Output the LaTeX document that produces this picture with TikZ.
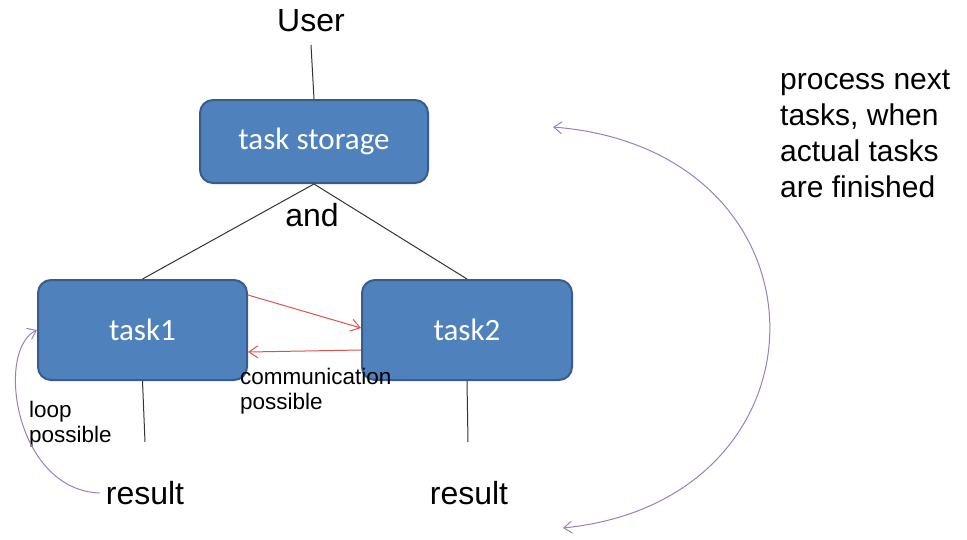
\documentclass[tikz,border=0pt]{standalone}
\usepackage{fontspec}
\setmainfont{Liberation Sans}
\newfontfamily\boxfont{Carlito}
\usetikzlibrary{arrows.meta}
\definecolor{boxfill}{HTML}{4F81BD}
\definecolor{boxedge}{HTML}{385D8A}
\definecolor{commred}{HTML}{D9534F}
\definecolor{looppurple}{HTML}{9A7FBF}
\begin{document}
\begin{tikzpicture}[x=1pt,y=-1pt,
  taskbox/.style={draw=boxedge,fill=boxfill,line width=2pt,rounded corners=13pt,
    text=white,font=\boxfont\fontsize{31}{36}\selectfont,inner sep=0pt},
  plain/.style={font=\fontsize{32}{38}\selectfont,inner sep=0pt},
  small/.style={font=\fontsize{22.5}{25}\selectfont,inner sep=0pt,align=left},
  link/.style={draw=black!80,line width=1pt},
  comm/.style={draw=commred,line width=1pt,-{Straight Barb[length=9pt,width=12pt]}},
  loopline/.style={draw=looppurple,line width=1pt}]
\useasboundingbox (0,0) rectangle (967,539);

% boxes
\node[taskbox,minimum width=228pt,minimum height=83pt] (store) at (314,141.5) {task storage};
\node[taskbox,minimum width=209pt,minimum height=100pt] (t1) at (142.5,330) {task1};
\node[taskbox,minimum width=210pt,minimum height=100pt] (t2) at (467,330) {task2};

% plain labels
\node[plain] (user) at (311,21) {User};
\node[plain] (and) at (312,215) {and};
\node[plain] (res1) at (145,493) {result};
\node[plain] (res2) at (469,493) {result};
\node[small,anchor=west] (comm) at (240,391) {communication\\possible};
\node[small,anchor=west] (loop) at (29,424) {loop\\possible};
\node[plain,anchor=north west,align=left,font=\fontsize{30}{36}\selectfont] (note) at (780,70)
  {process next\\tasks, when\\actual tasks\\are finished};

% end points of the result stems
\coordinate (s1) at (145,442);
\coordinate (s2) at (468,442);

% tree lines
\draw[link] (user.south |- 0,45) -- (store.north);
\draw[link] (store.south) -- (t1.north);
\draw[link] (store.south) -- (t2.north);
\draw[link] (t1.south) -- (s1);
\draw[link] (t2.south) -- (s2);

% communication arrows
\draw[comm] (t1.east |- 0,295) -- (t2.west |- 0,328);
\draw[comm] (t2.west |- 0,350) -- (t1.east |- 0,352);

% loop back from result to task1
\draw[loopline,-{Straight Barb[length=8pt,width=12pt]}]
  (res1.west) ++(-6,0) .. controls (15,490) and (-5,350) .. (t1.west);

% cycle arc on the right
\coordinate (arcTop) at (553,127);
\coordinate (arcBot) at (563,528);
\draw[loopline,{Straight Barb[length=8pt,width=12pt]}-{Straight Barb[length=8pt,width=12pt]}]
  (arcTop) .. controls (840,150) and (840,500) .. (arcBot);
\end{tikzpicture}
\end{document}
